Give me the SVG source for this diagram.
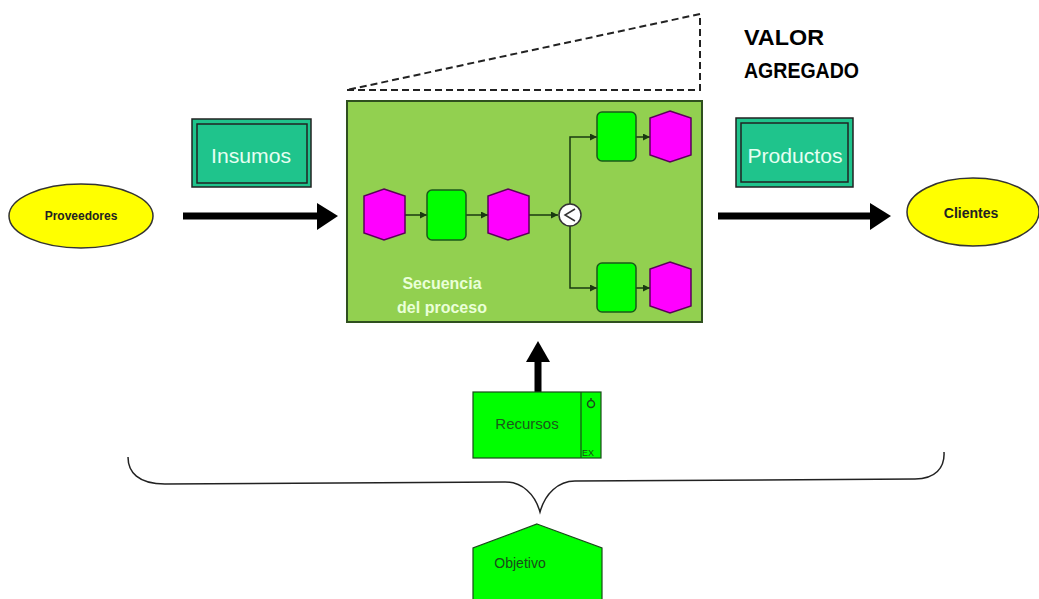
<svg xmlns="http://www.w3.org/2000/svg" width="1039" height="599" viewBox="0 0 1039 599">
<style>
.hex{fill:#ff00ff;stroke:#5a005a;stroke-width:1.5}
.fn{fill:#00ff00;stroke:#1a5a1a;stroke-width:1.5}
.thin{fill:none;stroke:#1a3a10;stroke-width:1.5}
.big{stroke:#000;stroke-width:7;fill:none}
.ell{fill:#ffff00;stroke:#333;stroke-width:1.5}
.lbl{font-family:"Liberation Sans",Arial,sans-serif}
.teal{fill:#1fc48c;stroke:#222;stroke-width:1.5}
</style>
<defs>
<marker id="sm" viewBox="0 0 10 10" refX="10" refY="5" markerWidth="7" markerHeight="7" markerUnits="userSpaceOnUse" orient="auto"><path d="M0,0 L10,5 L0,10 z" fill="#1a3a10"/></marker>
</defs>
<rect width="1039" height="599" fill="#fff"/>

<g id="valor">
<path d="M347,90 L700,90 L700,14 L347,90" fill="none" stroke="#222" stroke-width="2" stroke-dasharray="7,4"/>
<text class="lbl" x="744" y="45" font-size="22" font-weight="bold" textLength="80" lengthAdjust="spacingAndGlyphs">VALOR</text>
<text class="lbl" x="744" y="78" font-size="22" font-weight="bold" textLength="115" lengthAdjust="spacingAndGlyphs">AGREGADO</text>
</g>

<g id="proceso">
<rect x="347" y="101" width="355" height="221" fill="#92d050" stroke="#2f4f1f" stroke-width="2"/>
<text class="lbl" x="442" y="289" font-size="16" font-weight="bold" fill="#eaffd8" text-anchor="middle">Secuencia</text>
<text class="lbl" x="442" y="313" font-size="16" font-weight="bold" fill="#eaffd8" text-anchor="middle">del proceso</text>
</g>

<g id="connectors-inner">
<line class="thin" x1="405" y1="215" x2="427" y2="215" marker-end="url(#sm)"/>
<line class="thin" x1="466" y1="215" x2="488" y2="215" marker-end="url(#sm)"/>
<line class="thin" x1="529" y1="215" x2="558" y2="215" marker-end="url(#sm)"/>
<polyline class="thin" points="570,204 570,137 597,137" marker-end="url(#sm)"/>
<polyline class="thin" points="570,226 570,288 597,288" marker-end="url(#sm)"/>
<line class="thin" x1="636" y1="137" x2="650" y2="137" marker-end="url(#sm)"/>
<line class="thin" x1="636" y1="288" x2="650" y2="288" marker-end="url(#sm)"/>
</g>

<g id="ev1"><polygon class="hex" points="384,189 405,196 405,233 384,240 364,233 364,196"/></g>
<g id="fn1"><rect class="fn" x="427" y="190" width="39" height="50" rx="5"/></g>
<g id="ev2"><polygon class="hex" points="508,189 529,196 529,233 508,240 488,233 488,196"/></g>
<g id="xor"><circle cx="570" cy="215" r="11" fill="#fff" stroke="#333" stroke-width="1.5"/><polyline points="575,209 565,215 575,221" fill="none" stroke="#333" stroke-width="1.5"/></g>
<g id="fn2"><rect class="fn" x="597" y="112" width="39" height="49" rx="5"/></g>
<g id="ev3"><polygon class="hex" points="670,111 691,118 691,155 670,162 650,155 650,118"/></g>
<g id="fn3"><rect class="fn" x="597" y="263" width="39" height="49" rx="5"/></g>
<g id="ev4"><polygon class="hex" points="670,262 691,269 691,306 670,313 650,306 650,269"/></g>

<g id="insumos">
<rect class="teal" x="192" y="119" width="119" height="68"/>
<rect x="197" y="124" width="110" height="59" fill="none" stroke="#222" stroke-width="1.5"/>
<text class="lbl" x="251" y="163" font-size="21" fill="#e6fff2" text-anchor="middle" textLength="80" lengthAdjust="spacingAndGlyphs">Insumos</text>
</g>
<g id="productos">
<rect class="teal" x="736" y="118" width="117" height="69"/>
<rect x="741" y="123" width="107" height="59" fill="none" stroke="#222" stroke-width="1.5"/>
<text class="lbl" x="795" y="163" font-size="21" fill="#e6fff2" text-anchor="middle" textLength="95" lengthAdjust="spacingAndGlyphs">Productos</text>
</g>

<g id="proveedores">
<ellipse class="ell" cx="81" cy="216" rx="72" ry="32"/>
<text class="lbl" x="81" y="220" font-size="12" font-weight="bold" fill="#222" text-anchor="middle">Proveedores</text>
</g>
<g id="clientes">
<ellipse class="ell" cx="973" cy="212" rx="66" ry="34"/>
<text class="lbl" x="971" y="218" font-size="14" font-weight="bold" fill="#222" text-anchor="middle">Clientes</text>
</g>

<g id="connectors">
<line class="big" x1="183" y1="216" x2="318" y2="216"/>
<polygon points="317,203 338,216 317,230" fill="#000"/>
<line class="big" x1="718" y1="216" x2="871" y2="216"/>
<polygon points="870,203 891,216 870,230" fill="#000"/>
<line class="big" x1="538" y1="392" x2="538" y2="360"/>
<polygon points="526,362 538,341 550,362" fill="#000"/>
</g>

<g id="recursos">
<rect x="473" y="392" width="128" height="66" fill="#00ff00" stroke="#1a4a1a" stroke-width="1.2"/>
<line x1="581" y1="392" x2="581" y2="458" stroke="#1a4a1a" stroke-width="1.2"/>
<circle cx="591" cy="404" r="3.5" fill="none" stroke="#1a4a1a" stroke-width="1.5"/>
<line x1="591" y1="398" x2="591" y2="401" stroke="#1a4a1a" stroke-width="1.5"/>
<text class="lbl" x="582" y="456" font-size="9" fill="#1a4a1a">EX</text>
<text class="lbl" x="527" y="429" font-size="15" fill="#1a5a1a" text-anchor="middle">Recursos</text>
</g>

<g id="brace">
<path d="M128,457 C128,472 138,484 165,484 L505,482 C522,482 535,494 540,512 C545,494 558,481 575,481 L915,479 C935,479 945,468 944,452" fill="none" stroke="#222" stroke-width="1.5"/>
</g>

<g id="objetivo">
<polygon points="537,524 602,548 602,605 473,605 473,548" fill="#00ff00" stroke="#1a4a1a" stroke-width="1.2"/>
<text class="lbl" x="520" y="568" font-size="14" fill="#1a4a1a" text-anchor="middle">Objetivo</text>
</g>
</svg>
